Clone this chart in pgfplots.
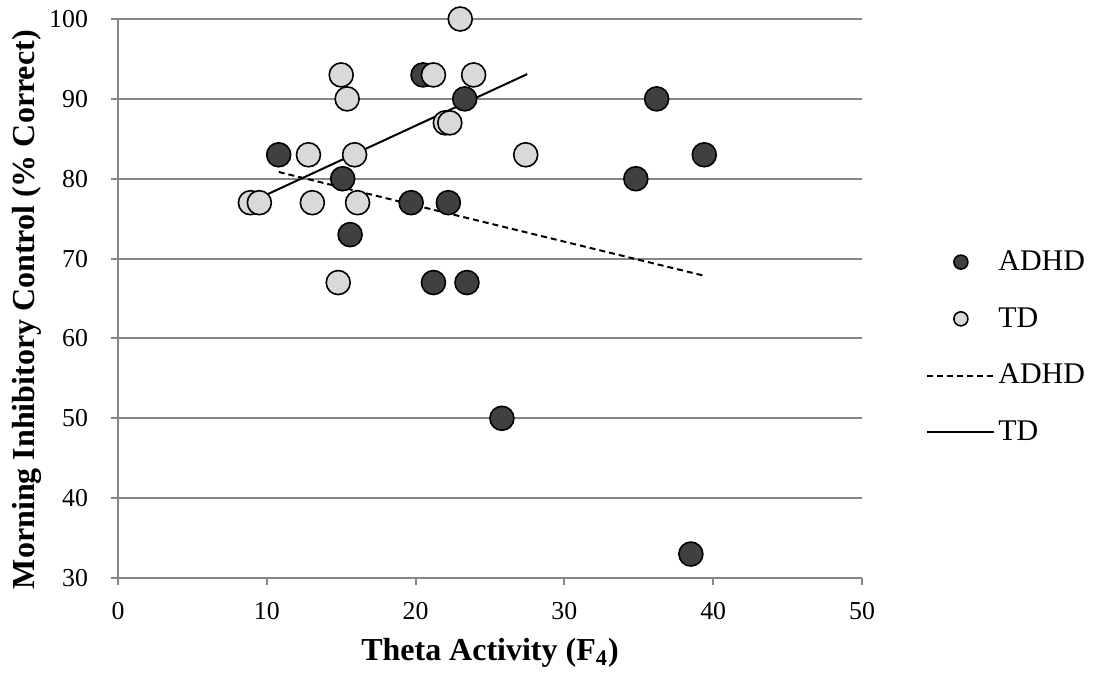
\documentclass[border=0pt]{standalone}
\usepackage{fontspec}
\setmainfont{Liberation Serif}
\usepackage{pgfplots}
\pgfplotsset{compat=1.18}
\definecolor{gridgray}{RGB}{134,134,134}
\definecolor{adhdfill}{RGB}{64,64,64}
\definecolor{tdfill}{RGB}{217,217,217}
\newcommand{\tf}{\fontsize{12.9}{15}\selectfont}
\pgfplotsset{
  markleg/.style={legend image code/.code={\path[draw=none,fill=none] (0pt,0pt) -- (33.5pt,0pt);
    \path[##1, draw=none, mark size=3.5pt] plot coordinates {(16.75pt,0pt)};}},
  lineleg/.style={legend image code/.code={\draw[##1] (0pt,0pt) -- (33.5pt,0pt);}},
}
\begin{document}
\begin{tikzpicture}
\useasboundingbox (-59pt,-49.5pt) rectangle (489pt,289pt);
\begin{axis}[
  scale only axis, width=372pt, height=279.5pt,
  at={(0pt,0pt)}, anchor=south west,
  xmin=0, xmax=50, ymin=30, ymax=100,
  xtick={0,10,20,30,40,50}, ytick={30,40,50,60,70,80,90,100},
  xticklabels={{\tf 0},{\tf 10},{\tf 20},{\tf 30},{\tf 40},{\tf 50}},
  yticklabels={{\tf 30},{\tf 40},{\tf 50},{\tf 60},{\tf 70},{\tf 80},{\tf 90},{\tf 100}},
  axis x line*=bottom, axis y line*=left,
  axis line style={gridgray, line width=1pt},
  tick style={gridgray, line width=1pt},
  tick align=outside, major tick length=3.5pt,
  ymajorgrids, grid style={gridgray, line width=1pt},
  clip=false,
  xticklabel style={yshift=-5pt},
  yticklabel style={xshift=-8pt},
  xlabel={Theta Activity (F\textsubscript{4})},
  ylabel={Morning Inhibitory Control (\% Correct)},
  label style={font=\fontsize{16}{19}\selectfont\bfseries},
  xlabel style={at={(axis description cs:0.5,-0.134)}, anchor=center},
  ylabel style={at={(axis description cs:-0.123,0.48)}, anchor=center},
  legend style={at={(1,0.413)}, anchor=west, xshift=32pt, draw=none, fill=none,
    inner sep=0pt, font=\fontsize{15}{17}\selectfont, row sep=14pt,
    nodes={inner sep=1.5pt}},
  legend cell align=left,
]
\addplot[only marks, mark=*, mark size=6pt,
  mark options={fill=adhdfill, draw=black, line width=0.8pt}, markleg]
  coordinates {
  (10.8,83) (15.1,80) (15.6,73) (19.7,77) (22.2,77) (21.2,67) (23.45,67)
  (23.3,90) (20.5,93) (25.8,50) (34.8,80) (36.2,90) (39.4,83) (38.5,33)};
\addlegendentry{ADHD}
\addplot[only marks, mark=*, mark size=6pt,
  mark options={fill=tdfill, draw=black, line width=0.8pt}, markleg]
  coordinates {
  (23.0,100) (15.0,93) (21.2,93) (23.9,93) (15.4,90) (22.0,87) (22.3,87)
  (12.8,83) (15.9,83) (27.4,83) (8.9,77) (9.5,77) (13.06,77) (16.1,77) (14.8,67)};
\addlegendentry{TD}
\addplot[black, line width=1pt, dash pattern=on 3pt off 2pt, mark=none, lineleg]
  coordinates {(10.8,80.84) (39.4,67.85)};
\addlegendentry{ADHD}
\addplot[black, line width=1pt, mark=none, lineleg]
  coordinates {(8.9,77.07) (27.5,93.1)};
\addlegendentry{TD}
\end{axis}
\end{tikzpicture}
\end{document}
